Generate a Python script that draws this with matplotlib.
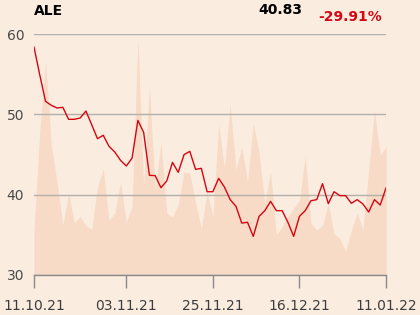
import matplotlib
matplotlib.use("Agg")
import matplotlib.pyplot as plt

# closing prices, one per trading session
price = [58.38, 54.9, 51.62, 51.12, 50.79, 50.87, 49.38, 49.38, 49.54, 50.41,
         48.71, 46.97, 47.39, 46.02, 45.31, 44.27, 43.57, 44.56, 49.25, 47.76,
         42.41, 42.37, 40.87, 41.70, 44.02, 42.78, 44.98, 45.39, 43.15, 43.28,
         40.37, 40.37, 42.03, 40.95, 39.38, 38.55, 36.47, 36.56, 34.81, 37.30,
         38.01, 39.17, 38.01, 38.01, 36.56, 34.81, 37.30, 38.01, 39.25, 39.38,
         41.37, 38.88, 40.37, 39.88, 39.88, 38.92, 39.38, 38.84, 37.84, 39.38,
         38.71, 40.83]

# traded volume (relative units, drawn on a hidden secondary axis)
volume = [5.6, 18.0, 26.6, 16.2, 11.5, 6.3, 10.2, 6.5, 7.3, 6.1,
          5.7, 11.0, 13.2, 6.8, 7.7, 11.6, 6.6, 8.5, 29.5, 11.0,
          23.6, 10.5, 16.5, 7.7, 7.2, 8.8, 12.8, 12.7, 9.0, 5.8,
          10.4, 7.3, 18.7, 13.3, 21.2, 13.1, 16.0, 11.6, 18.9, 15.2,
          8.9, 12.9, 5.0, 6.0, 7.3, 8.3, 9.3, 14.8, 6.4, 5.6,
          6.2, 8.9, 5.1, 4.6, 2.9, 5.6, 7.7, 5.6, 13.1, 20.5,
          14.9, 16.0]

tick_pos = [0, 16, 31, 46, 61]
tick_labels = ["11.10.21", "03.11.21", "25.11.21", "16.12.21", "11.01.22"]

ticker = "ALE"
last_price = "40.83"
change = "-29.91%"

bg = "#fbece0"
area_col = "#f7dbc6"
red = "#d40612"
grid_col = "#b3b0ac"

fig = plt.figure(figsize=(4.2, 3.15), dpi=100, facecolor=bg)
ax = fig.add_axes([34 / 420, 40 / 315, 352 / 420, 241 / 315])
ax.set_facecolor(bg)

x = list(range(len(price)))

vax = ax.twinx()
vax.fill_between(x, 0, volume, color=area_col, linewidth=0)
vax.set_ylim(0, 30)
vax.axis("off")
ax.set_zorder(vax.get_zorder() + 1)
ax.patch.set_visible(False)

ax.plot(x, price, color=red, linewidth=1.0)

ax.set_xlim(0, len(price) - 1)
ax.set_ylim(30, 60)
ax.set_yticks([30, 40, 50, 60])
ax.grid(axis="y", color=grid_col, linewidth=1.0)
ax.set_xticks(tick_pos)
ax.set_xticklabels(tick_labels)
ax.tick_params(axis="y", length=0, pad=7, labelsize=10, labelcolor="#4a4a4a")
ax.tick_params(axis="x", length=9, width=1, color="#8a8a8a", pad=8,
               labelsize=10, labelcolor="#3c3c3c")
for side in ["left", "right", "top"]:
    ax.spines[side].set_visible(False)
ax.spines["bottom"].set_color("#8a8a8a")
ax.spines["bottom"].set_linewidth(1)

fig.text(34 / 420, 1 - 11 / 315, ticker, fontsize=10, fontweight="bold",
         color="black", va="center", ha="left")
fig.text(302 / 420, 1 - 10 / 315, last_price, fontsize=10, fontweight="bold",
         color="black", va="center", ha="right")
fig.text(382 / 420, 1 - 17 / 315, change, fontsize=10, fontweight="bold",
         color=red, va="center", ha="right")

fig.savefig("out.png", dpi=100, facecolor=bg)
